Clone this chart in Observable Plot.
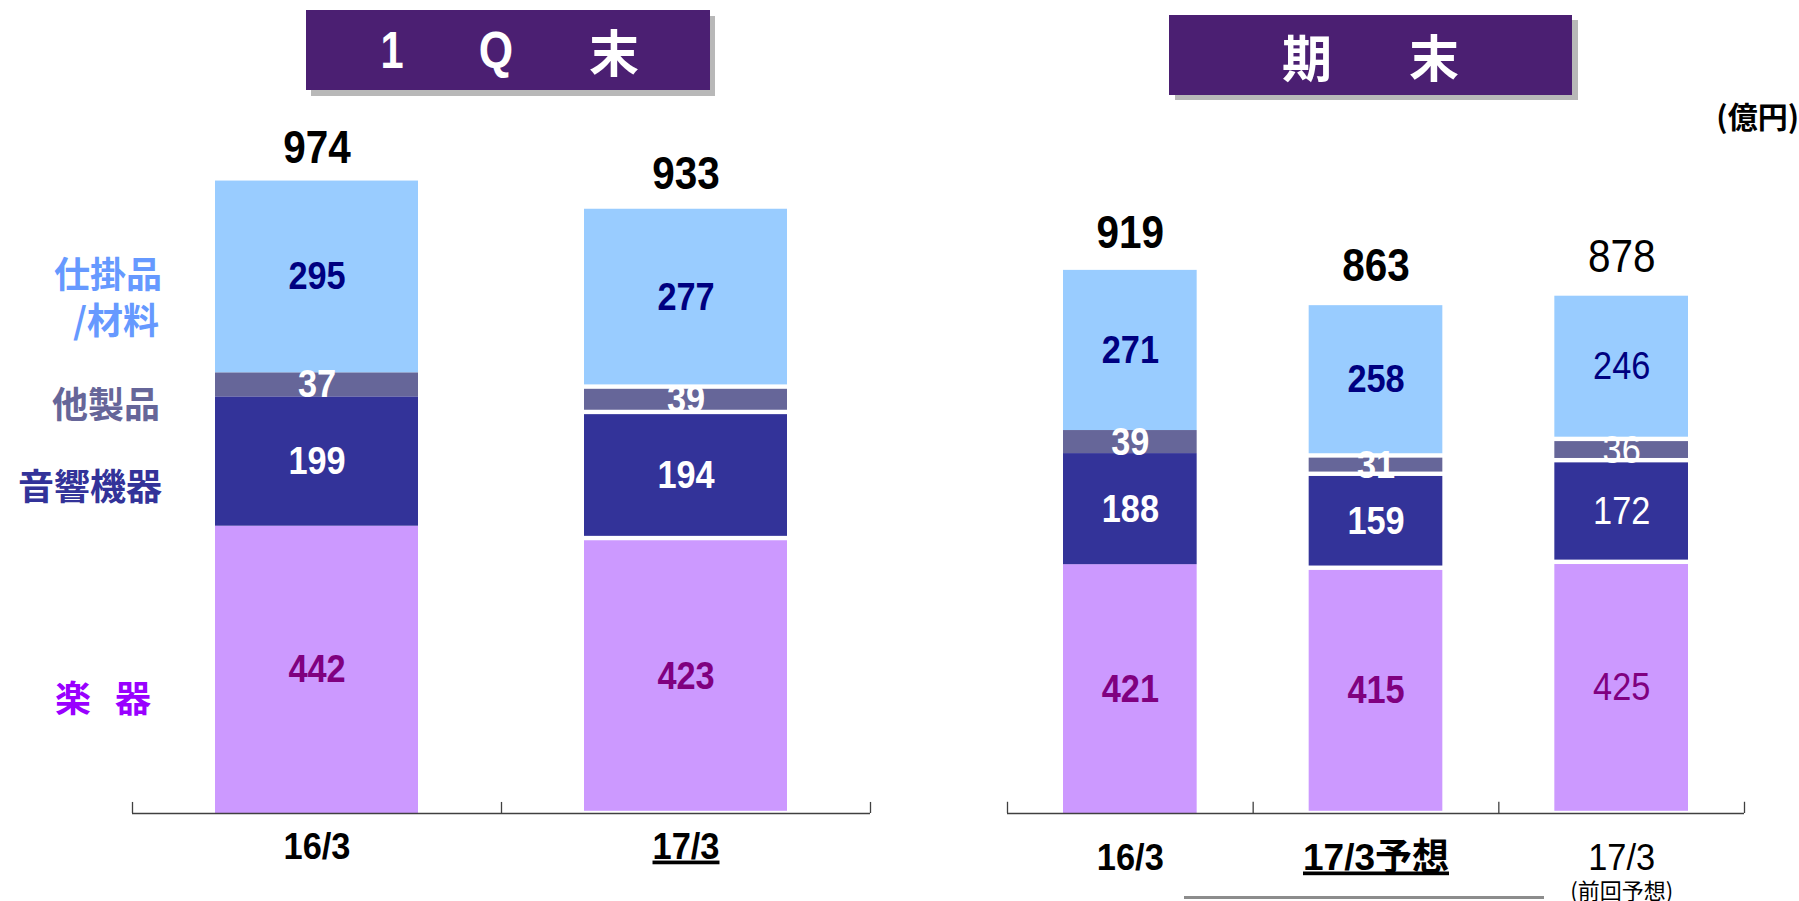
<!DOCTYPE html>
<html>
<head>
<meta charset="utf-8">
<script src="https://cdn.jsdelivr.net/npm/d3@7"></script>
<script src="https://cdn.jsdelivr.net/npm/@observablehq/plot@0.6"></script>
<style>
  body { margin: 0; background: #fff; }
  #wrap { position: relative; width: 1799px; height: 901px; overflow: hidden; font-family: "Noto Sans CJK JP", sans-serif; }
  .box { position: absolute; background: #4b1f72; }
  .box span { position: absolute; top: 50%; transform: translate(-50%, -50%); color: #fff; font-weight: 700; line-height: 1; white-space: nowrap; }
  .lab { position: absolute; font-weight: 700; font-size: 36px; line-height: 45px; text-align: right; white-space: nowrap; }
  .plot { position: absolute; top: 0; }
  .plot svg { overflow: visible; }
</style>
</head>
<body>
<div id="wrap">
  <div class="box" style="left:306px;top:10px;width:404px;height:80px;box-shadow:5px 6px 0 #b8b8b8;">
    <span style="left:86px;font-family:'Liberation Sans',sans-serif;font-size:52px;transform:translate(-50%,-50%) scaleX(0.8);">1</span>
    <span style="left:190px;font-family:'Liberation Sans',sans-serif;font-size:52px;transform:translate(-50%,-50%) scaleX(0.85);">Q</span>
    <span style="left:308px;font-size:50px;">末</span>
  </div>
  <div class="box" style="left:1169px;top:15px;width:403px;height:80px;box-shadow:6px 5px 0 #b8b8b8;">
    <span style="left:138px;font-size:50px;">期</span>
    <span style="left:265px;font-size:50px;">末</span>
  </div>
  <div class="lab" style="right:0px;top:100px;font-size:30px;line-height:1;">(億円)</div>

  <div class="lab" style="right:1637px;top:250px;color:#6699ff;">仕掛品</div>
  <div class="lab" style="right:1640px;top:296px;color:#6699ff;">/材料</div>
  <div class="lab" style="right:1639px;top:380px;color:#666699;">他製品</div>
  <div class="lab" style="right:1637px;top:462px;color:#333399;">音響機器</div>
  <div class="lab" style="right:1648px;top:674px;color:#9900ff;">楽<span style="margin-left:24px">器</span></div>

  <div id="left" class="plot" style="left:0;"></div>
  <div id="right" class="plot" style="left:900px;"></div>
  <div style="position:absolute;left:1184px;top:896px;width:360px;height:3px;background:#8c8c8c;"></div>
</div>
<script>
// ---- data ----
const segments = ["楽器", "音響機器", "他製品", "仕掛品/材料"];
const segColors = ["#cc99ff", "#333399", "#666699", "#99ccff"];
const labelColors = ["#800080", "#ffffff", "#ffffff", "#000080"];

const q1Periods = ["16/3", "17/3"];
const q1Musical = [442, 423];
const q1Audio = [199, 194];
const q1Other = [37, 39];
const q1Wip = [295, 277];
const q1Totals = [974, 933];

const fyPeriods = ["16/3", "17/3予想", "17/3"];
const fySubLabel = ["", "", "(前回予想)"];
const fyMusical = [421, 415, 425];
const fyAudio = [188, 159, 172];
const fyOther = [39, 31, 36];
const fyWip = [271, 258, 246];
const fyTotals = [919, 863, 878];

const NUM = '"Liberation Sans", Arial, "Noto Sans CJK JP", sans-serif';
const CJK = '"Noto Sans CJK JP", sans-serif';

function stackRows(periods, series) {
  const rows = [];
  periods.forEach((p, i) => {
    let base = 0;
    series.forEach((vals, s) => {
      rows.push({period: p, i, seg: segments[s], k: s, value: vals[i], y1: base, y2: base + vals[i]});
      base += vals[i];
    });
  });
  return rows;
}

// horizontally condense a text element around its anchor
function condense(el, sx) {
  const t = el.getAttribute("transform") || "";
  const xa = el.getAttribute("x");
  if (xa != null && !isNaN(+xa)) el.setAttribute("x", +xa / sx);
  el.setAttribute("transform", `${t} scale(${sx},1)`);
}

function makePanel(cfg) {
  const n = cfg.periods.length;
  const rows = stackRows(cfg.periods, cfg.series);
  const tops = cfg.periods.map((p, i) => ({i, period: p, total: cfg.totals[i], top: d3.sum(cfg.series, s => s[i])}));
  const cats = cfg.periods.map((p, i) => ({i, period: p}));
  const bx1 = r => r.i, bx2 = r => r.i + 1;
  const marks = [
    Plot.rectY(rows.filter(r => r.i === 0), {x1: bx1, x2: bx2, y1: "y1", y2: "y2", fill: "seg", insetLeft: cfg.inset, insetRight: cfg.inset}),
    Plot.rectY(rows.filter(r => r.i > 0), {x1: bx1, x2: bx2, y1: "y1", y2: "y2", fill: "seg", insetLeft: cfg.inset, insetRight: cfg.inset, insetTop: 2.2, insetBottom: 2.2}),
    Plot.ruleY([0], {stroke: "#404040", strokeWidth: 1.5}),
    Plot.ruleX(d3.range(n + 1), {x: d => d, y1: () => 0, y2: () => cfg.tickLen, stroke: "#404040", strokeWidth: 1.3})
  ];
  segments.forEach((s, k) => {
    [true, false].forEach(bold => {
      const sub = rows.filter(r => r.k === k && (cfg.regular.includes(r.i) ? !bold : bold));
      if (!sub.length) return;
      marks.push(Plot.text(sub, {
        x: r => r.i + 0.5, y: r => (r.y1 + r.y2) / 2, text: r => String(r.value),
        fill: labelColors[k], fontSize: 39, fontWeight: bold ? 700 : 400, fontFamily: NUM
      }));
    });
  });
  [true, false].forEach(bold => {
    const t = tops.filter(d => cfg.regular.includes(d.i) ? !bold : bold);
    if (t.length) marks.push(Plot.text(t, {
      x: d => d.i + 0.5, y: "top", text: d => String(d.total), lineAnchor: "bottom",
      dy: cfg.totalDy, fontSize: 46, fontWeight: bold ? 700 : 400, fill: "#000", fontFamily: NUM
    }));
  });
  // category labels
  [true, false].forEach(bold => {
    const c = cats.filter(d => cfg.regular.includes(d.i) ? !bold : bold);
    if (c.length) marks.push(Plot.text(c, {
      x: d => d.i + 0.5, y: () => 0, text: "period", lineAnchor: "bottom", dy: cfg.catDy,
      fontSize: 37, fontWeight: bold ? 700 : 400, fill: "#000", fontFamily: NUM
    }));
  });
  if (cfg.sub) {
    const s = cats.filter(d => cfg.sub[d.i]);
    marks.push(Plot.text(s, {
      x: d => d.i + 0.5, y: () => 0, text: d => cfg.sub[d.i], lineAnchor: "top", dy: cfg.catDy + 14,
      fontSize: 22, fontWeight: 400, fill: "#000", fontFamily: CJK
    }));
  }
  const svg = Plot.plot({
    width: cfg.width, height: 901,
    marginLeft: cfg.marginLeft, marginRight: cfg.marginRight, marginTop: cfg.marginTop, marginBottom: 88,
    x: {type: "linear", domain: [0, n], axis: null},
    y: {domain: [0, 1000], axis: null},
    color: {domain: segments, range: segColors},
    style: {background: "transparent", overflow: "visible"},
    marks
  });
  d3.select(svg).selectAll("text").each(function() {
    const s = this.textContent;
    if (/^[0-9]+$/.test(s)) condense(this, 0.88);
    else if (/^[0-9/]+$/.test(s)) condense(this, 0.93);
    if (cfg.underline.includes(s)) {
      this.setAttribute("text-decoration", "underline");
      this.style.textDecoration = "underline";
      this.style.textDecorationThickness = "2.5px";
      this.style.textUnderlineOffset = "3px";
    }
  });
  return svg;
}

document.getElementById("left").appendChild(makePanel({
  periods: q1Periods, series: [q1Musical, q1Audio, q1Other, q1Wip], totals: q1Totals,
  width: 900, marginLeft: 132, marginRight: 30, marginTop: 163,
  inset: 83, tickLen: 17, totalDy: -18, catDy: 45, underline: ["17/3"], regular: []
}));
document.getElementById("right").appendChild(makePanel({
  periods: fyPeriods, series: [fyMusical, fyAudio, fyOther, fyWip], totals: fyTotals,
  width: 899, marginLeft: 107, marginRight: 55, marginTop: 222,
  inset: 56, tickLen: 19, totalDy: -22, catDy: 56, underline: ["17/3予想"], regular: [2], sub: fySubLabel
}));
</script>
</body>
</html>
